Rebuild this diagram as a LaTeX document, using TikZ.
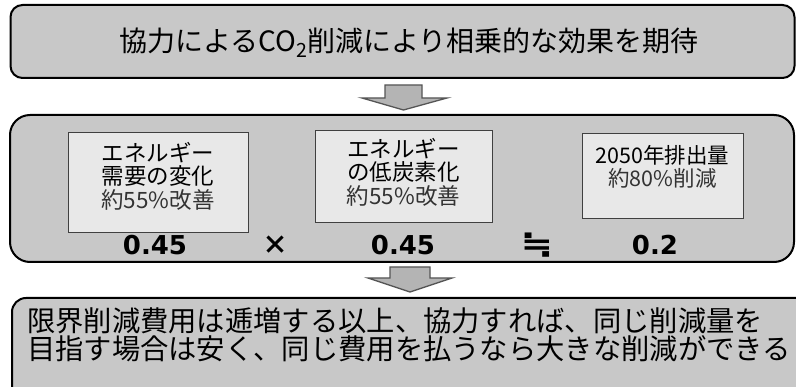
\documentclass[tikz,border=0pt]{standalone}
\usepackage{fontspec}
\setmainfont{Noto Sans CJK JP}
\newfontfamily\numfont{DejaVu Sans}
\definecolor{outerfill}{HTML}{C8C8C8}
\definecolor{innerfill}{HTML}{E8E8E8}
\definecolor{arrowfill}{HTML}{B4B4B4}
\definecolor{arrowline}{HTML}{555555}
\tikzset{
  outerbox/.style={draw=black, line width=2pt, fill=outerfill, inner sep=0pt},
  innerbox/.style={draw=black!75, line width=0.9pt, fill=innerfill, inner sep=0pt},
  blockarrow/.style={draw=arrowline, line width=1.3pt, fill=arrowfill, line join=miter},
  toptext/.style={font=\fontsize{28}{30}\selectfont, inner sep=0pt},
  boxtext/.style={font=\fontsize{22.5}{23.5}\selectfont, align=center, inner sep=0pt},
  numtext/.style={font=\numfont\bfseries\fontsize{26}{28}\selectfont, inner sep=0pt},
  bottext/.style={font=\fontsize{28.3}{28}\selectfont, inner sep=0pt, anchor=west}
}
\begin{document}
\begin{tikzpicture}[x=1pt,y=-1pt]
\useasboundingbox (0,0) rectangle (796,387);
\clip (0,0) rectangle (796,387);
\fill[white] (0,0) rectangle (796,387);

% top box
\node[outerbox, rounded corners=12pt, minimum width=784pt, minimum height=73pt] (top) at (402.5,41.5) {};
\node[toptext] (toplabel) at (409,43) {協力によるCO\textsubscript{2}削減により相乗的な効果を期待};

% arrow 1
\draw[blockarrow] (385,85) -- (422,85) -- (422,98) -- (447,98) -- (403.5,110) -- (362,98) -- (385,98) -- cycle;

% middle box
\node[outerbox, rounded corners=20pt, minimum width=784pt, minimum height=147pt] (mid) at (402,188.5) {};

\node[innerbox, minimum width=180pt, minimum height=100pt] (b1) at (158,182) {};
\node[boxtext] (b1t) at (158,176) {エネルギー\\需要の変化\\\textcolor{black!80}{約55\%改善}};

\node[innerbox, minimum width=177pt, minimum height=92pt] (b2) at (403.5,176) {};
\node[boxtext] (b2t) at (403.5,172) {エネルギー\\の低炭素化\\\textcolor{black!80}{約55\%改善}};

\node[innerbox, minimum width=161pt, minimum height=85pt] (b3) at (662.5,175.5) {};
\node[boxtext, font=\fontsize{21.5}{23}\selectfont] (b3t) at (662.5,166.5) {2050年排出量\\\textcolor{black!80}{約80\%削減}};

\node[numtext] (n1) at (155,245) {0.45};
\node[font=\bfseries\fontsize{26}{28}\selectfont, inner sep=0pt] (times) at (275,245) {×};
\node[numtext] (n2) at (403,245) {0.45};
\node[font=\numfont\bfseries\fontsize{30}{30}\selectfont, inner sep=0pt, xscale=1.3] (approx) at (537,245) {≒};
\node[numtext] (n3) at (655,245) {0.2};

% arrow 2
\draw[blockarrow] (390,267) -- (430,267) -- (430,278) -- (452,278) -- (410,292) -- (368,278) -- (390,278) -- cycle;

% bottom box
\node[outerbox, rounded corners=14pt, minimum width=800pt, minimum height=110pt] (bot) at (412,353) {};
\node[bottext] (l1) at (27,321) {限界削減費用は逓増する以上、協力すれば、同じ削減量を};
\node[bottext] (l2) at (27,349) {目指す場合は安く、同じ費用を払うなら大きな削減ができる};
\end{tikzpicture}
\end{document}
